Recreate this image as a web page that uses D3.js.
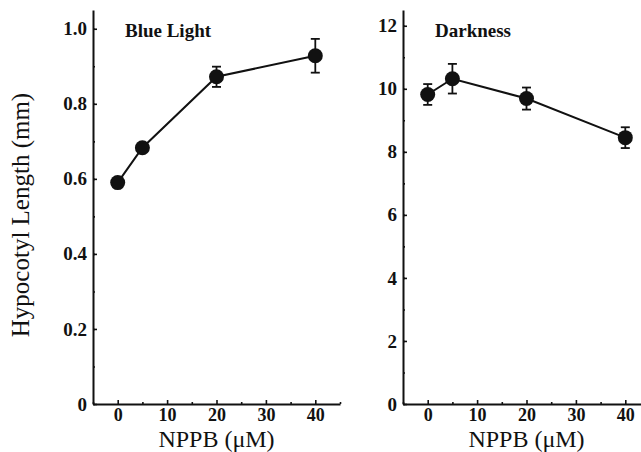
<!DOCTYPE html>
<html>
<head>
<meta charset="utf-8">
<script src="https://cdn.jsdelivr.net/npm/d3@7"></script>
<style>
    body { margin: 0; background: #fff; }
    svg text { font-family: "Liberation Serif", "Times New Roman", serif; fill: #111; }
    .domain { stroke: #111; stroke-width: 2; }
    .tick line { stroke: #111; stroke-width: 1.6; }
</style>
</head>
<body>
<div id="chart"></div>
<script>

// NPPB concentrations (uM)
const nppb = [0, 5, 20, 40];

// blue light panel (mm)
const blueMean = [0.59, 0.683, 0.872, 0.928];
const blueErr = [0.0, 0.0, 0.027, 0.045];

// darkness panel (mm)
const darkMean = [9.82, 10.32, 9.69, 8.45];
const darkErr = [0.33, 0.47, 0.35, 0.33];

const panels = [
    { title: "Blue Light", mean: blueMean, err: blueErr, ymax: 1.05, major: [0, 0.2, 0.4, 0.6, 0.8, 1.0], minorStep: 0.1, left: 93 },
    { title: "Darkness", mean: darkMean, err: darkErr, ymax: 12.5, major: [0, 2, 4, 6, 8, 10, 12], minorStep: 1, left: 403 }
];

const xMajor = [0, 10, 20, 30, 40];
const xMinor = [-5, 5, 15, 25, 35, 45];

const width = 641;
const height = 452;
const plotTop = 10;
const plotBottom = 404;

const svg = d3.select("#chart")
    .append("svg")
    .attr("width", width)
    .attr("height", height);

panels.forEach(function (p) {

    const x = d3.scaleLinear()
        .domain([-5, 45])
        .range([p.left, p.left + 247]);

    const y = d3.scaleLinear()
        .domain([0, p.ymax])
        .range([plotBottom, plotTop]);

    const g = svg.append("g");

    // minor ticks
    const yMinor = d3.range(0, p.ymax + 1e-9, p.minorStep);

    g.append("g")
        .attr("transform", "translate(" + p.left + ",0)")
        .call(d3.axisLeft(y).tickValues(yMinor).tickSize(-2).tickFormat(""))
        .call(g => g.select(".domain").remove());

    g.append("g")
        .attr("transform", "translate(0," + plotBottom + ")")
        .call(d3.axisBottom(x).tickValues(xMinor).tickSize(-2).tickFormat(""))
        .call(g => g.select(".domain").remove());

    // y axis
    g.append("g")
        .attr("transform", "translate(" + p.left + ",0)")
        .call(d3.axisLeft(y)
            .tickValues(p.major)
            .tickSize(-4)
            .tickSizeOuter(0)
            .tickPadding(6)
            .tickFormat(d => d === 0 ? "0" : (p.ymax < 2 ? d3.format(".1f")(d) : d)))
        .call(g => g.selectAll("text")
            .style("font-size", "19px")
            .style("font-weight", "bold"));

    // x axis
    g.append("g")
        .attr("transform", "translate(0," + plotBottom + ")")
        .call(d3.axisBottom(x)
            .tickValues(xMajor)
            .tickSize(-4)
            .tickSizeOuter(0)
            .tickPadding(4)
            .tickFormat(d => d))
        .call(g => g.selectAll("text")
            .style("font-size", "18px")
            .style("font-weight", "bold"));

    // x axis title
    g.append("text")
        .attr("x", x(20))
        .attr("y", 447)
        .attr("text-anchor", "middle")
        .style("font-size", "24px")
        .text("NPPB (\u03bcM)");

    // panel title
    g.append("text")
        .attr("x", p.left + 32)
        .attr("y", 37)
        .style("font-size", "19px")
        .style("font-weight", "bold")
        .text(p.title);

    const pts = nppb.map((d, i) => ({ x: d, y: p.mean[i], e: p.err[i] }));

    const line = d3.line()
        .x(d => x(d.x))
        .y(d => y(d.y));

    g.append("path")
        .datum(pts)
        .attr("d", line)
        .attr("fill", "none")
        .attr("stroke", "#111")
        .attr("stroke-width", 2);

    // error bars
    const eb = g.selectAll("g.err")
        .data(pts.filter(d => d.e > 0))
        .enter()
        .append("g")
        .attr("class", "err")
        .attr("stroke", "#111")
        .attr("stroke-width", 1.8);

    eb.append("line")
        .attr("x1", d => x(d.x))
        .attr("x2", d => x(d.x))
        .attr("y1", d => y(d.y - d.e))
        .attr("y2", d => y(d.y + d.e));

    eb.append("line")
        .attr("x1", d => x(d.x) - 4.5)
        .attr("x2", d => x(d.x) + 4.5)
        .attr("y1", d => y(d.y + d.e))
        .attr("y2", d => y(d.y + d.e));

    eb.append("line")
        .attr("x1", d => x(d.x) - 4.5)
        .attr("x2", d => x(d.x) + 4.5)
        .attr("y1", d => y(d.y - d.e))
        .attr("y2", d => y(d.y - d.e));

    g.selectAll("circle")
        .data(pts)
        .enter()
        .append("circle")
        .attr("cx", d => x(d.x))
        .attr("cy", d => y(d.y))
        .attr("r", 7.5)
        .attr("fill", "#111");
});

// shared y title
svg.append("text")
    .attr("transform", "translate(29,215) rotate(-90)")
    .attr("text-anchor", "middle")
    .style("font-size", "25px")
    .text("Hypocotyl  Length (mm)");

</script>
</body>
</html>
